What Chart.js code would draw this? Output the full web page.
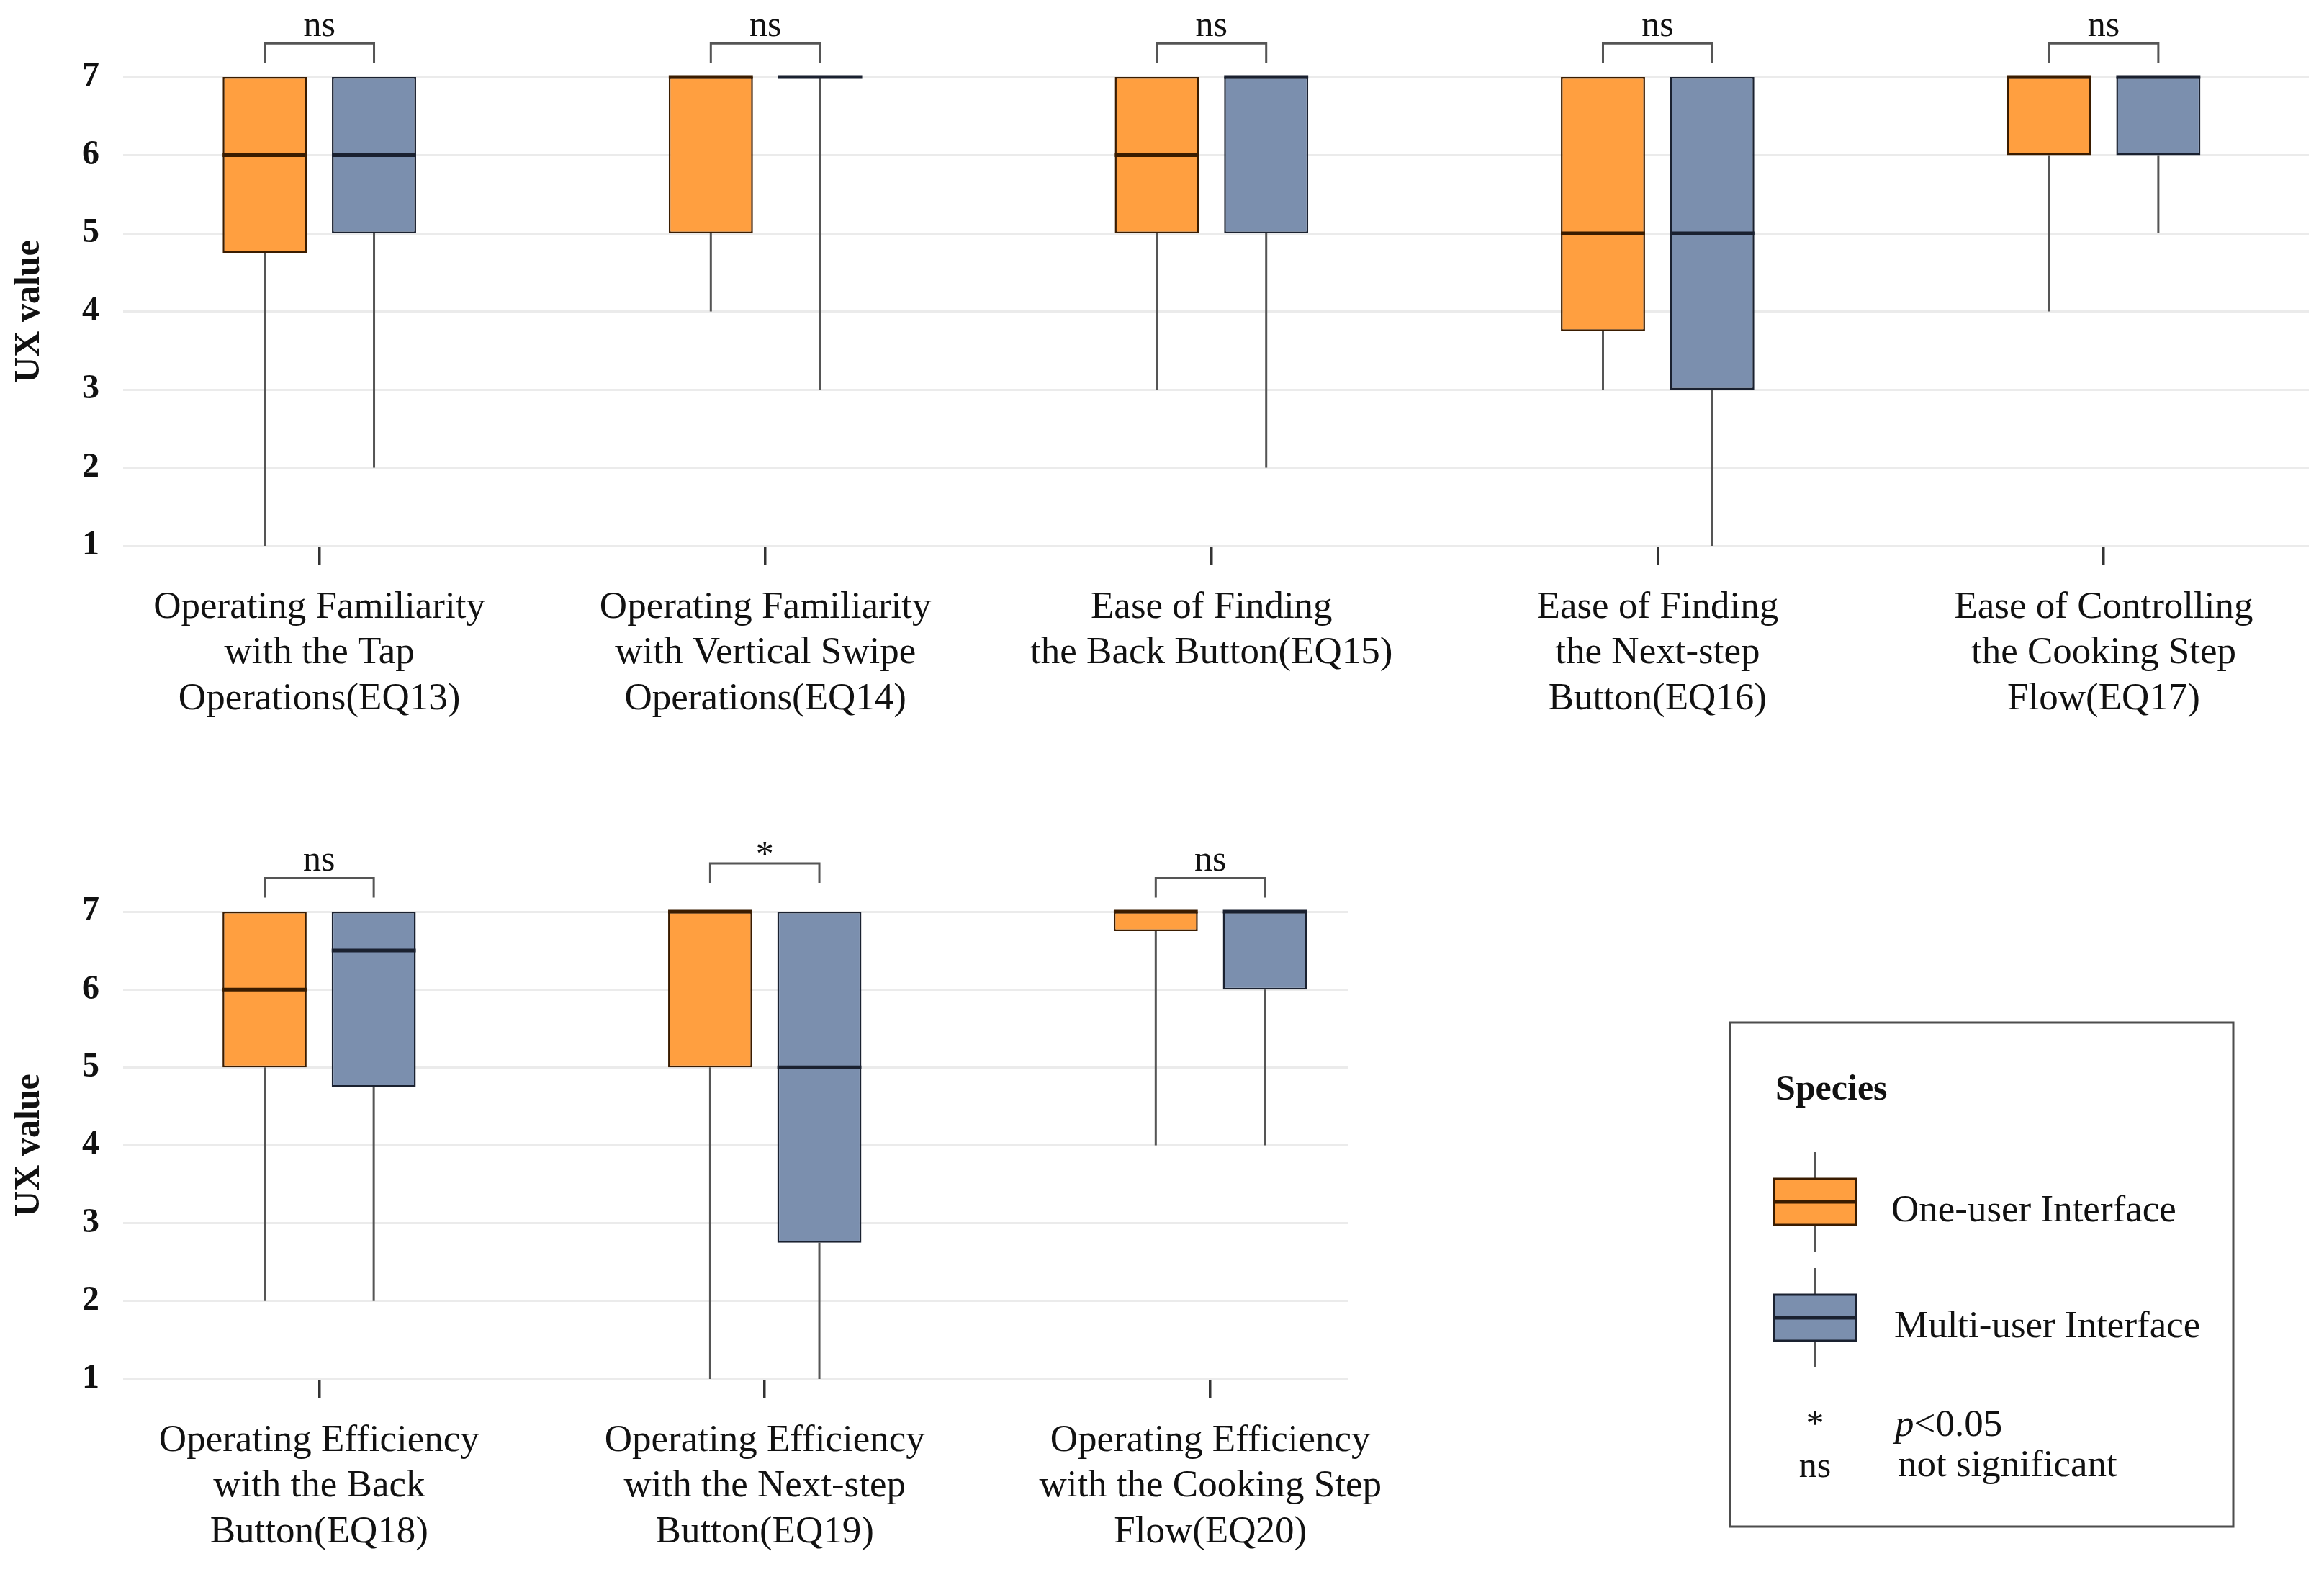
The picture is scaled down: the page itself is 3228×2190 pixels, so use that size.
<!DOCTYPE html>
<html>
<head>
<meta charset="utf-8">
<script src="https://cdn.jsdelivr.net/npm/chart.js@4.4.1/dist/chart.umd.min.js"></script>
<style>
  html, body { margin: 0; padding: 0; background: #fff; }
  body { width: 3228px; height: 2190px; position: relative; overflow: hidden; }
  canvas { position: absolute; left: 0; }
  #topChart { top: 0; }
  #bottomChart { top: 1040px; }
</style>
</head>
<body>
<canvas id="topChart" width="3228" height="1040"></canvas>
<canvas id="bottomChart" width="3228" height="1150"></canvas>
<script>
/* ---- Data ---- */
const Y_TICKS = [1, 2, 3, 4, 5, 6, 7];
const SERIES_NAMES = ["One-user Interface", "Multi-user Interface"];

const TOP_LABELS = [
  ["Operating Familiarity", "with the Tap", "Operations(EQ13)"],
  ["Operating Familiarity", "with Vertical Swipe", "Operations(EQ14)"],
  ["Ease of Finding", "the Back Button(EQ15)"],
  ["Ease of Finding", "the Next-step", "Button(EQ16)"],
  ["Ease of Controlling", "the Cooking Step", "Flow(EQ17)"],
];
const TOP_ONE_MIN = [1, 4, 3, 3, 4];
const TOP_ONE_Q1 = [4.75, 5, 5, 3.75, 6];
const TOP_ONE_MED = [6, 7, 6, 5, 7];
const TOP_ONE_Q3 = [7, 7, 7, 7, 7];
const TOP_ONE_MAX = [7, 7, 7, 7, 7];
const TOP_MULTI_MIN = [2, 3, 2, 1, 5];
const TOP_MULTI_Q1 = [5, 7, 5, 3, 6];
const TOP_MULTI_MED = [6, 7, 7, 5, 7];
const TOP_MULTI_Q3 = [7, 7, 7, 7, 7];
const TOP_MULTI_MAX = [7, 7, 7, 7, 7];
const TOP_SIG = ["ns", "ns", "ns", "ns", "ns"];

const BOTTOM_LABELS = [
  ["Operating Efficiency", "with the Back", "Button(EQ18)"],
  ["Operating Efficiency", "with the Next-step", "Button(EQ19)"],
  ["Operating Efficiency", "with the Cooking Step", "Flow(EQ20)"],
];
const BOTTOM_ONE_MIN = [2, 1, 4];
const BOTTOM_ONE_Q1 = [5, 5, 6.75];
const BOTTOM_ONE_MED = [6, 7, 7];
const BOTTOM_ONE_Q3 = [7, 7, 7];
const BOTTOM_ONE_MAX = [7, 7, 7];
const BOTTOM_MULTI_MIN = [2, 1, 4];
const BOTTOM_MULTI_Q1 = [4.75, 2.75, 6];
const BOTTOM_MULTI_MED = [6.5, 5, 7];
const BOTTOM_MULTI_Q3 = [7, 7, 7];
const BOTTOM_MULTI_MAX = [7, 7, 7];
const BOTTOM_SIG = ["ns", "*", "ns"];

/* ---- Styles ---- */
const SERIF = '"Liberation Serif", "Times New Roman", serif';
const INK = "#111111";
const ORANGE = "#FF9F40";
const ORANGE_EDGE = "#3a1c00";
const BLUE = "#7B8FAE";
const BLUE_EDGE = "#1a2130";
const WHISKER = "#555555";

Chart.defaults.font.family = SERIF;
Chart.defaults.color = INK;

function series(name, color, edge, min, q1, med, q3, max) {
  return { name, color, edge, min, q1, med, q3, max };
}

/** whiskers, medians and significance brackets, all placed through the chart scales */
function boxExtras(list, sig, withLegend) {
  return {
    id: "boxExtras",
    beforeDatasetsDraw(chart) {
      const y = chart.scales.y;
      const ctx = chart.ctx;
      ctx.save();
      ctx.strokeStyle = WHISKER;
      ctx.lineWidth = 3;
      list.forEach((s, d) => {
        chart.getDatasetMeta(d).data.forEach((bar, i) => {
          ctx.beginPath();
          ctx.moveTo(bar.x, y.getPixelForValue(s.min[i]));
          ctx.lineTo(bar.x, y.getPixelForValue(s.q1[i]));
          ctx.moveTo(bar.x, y.getPixelForValue(s.q3[i]));
          ctx.lineTo(bar.x, y.getPixelForValue(s.max[i]));
          ctx.stroke();
        });
      });
      ctx.restore();
    },
    afterDatasetsDraw(chart) {
      const y = chart.scales.y;
      const ctx = chart.ctx;
      ctx.save();
      // medians
      ctx.lineWidth = 5;
      list.forEach((s, d) => {
        chart.getDatasetMeta(d).data.forEach((bar, i) => {
          const py = y.getPixelForValue(s.med[i]);
          ctx.strokeStyle = s.edge;
          ctx.beginPath();
          ctx.moveTo(bar.x - bar.width / 2, py);
          ctx.lineTo(bar.x + bar.width / 2, py);
          ctx.stroke();
        });
      });
      // brackets
      const a = chart.getDatasetMeta(0).data;
      const b = chart.getDatasetMeta(1).data;
      ctx.strokeStyle = "#555555";
      ctx.lineWidth = 3;
      ctx.fillStyle = INK;
      ctx.textAlign = "center";
      ctx.textBaseline = "alphabetic";
      ctx.font = "50px " + SERIF;
      sig.forEach((txt, i) => {
        const lift = txt === "*" ? 0.19 : 0;
        const yTop = y.getPixelForValue(7.43 + lift);
        const yLeg = y.getPixelForValue(7.18 + lift);
        ctx.beginPath();
        ctx.moveTo(a[i].x, yLeg);
        ctx.lineTo(a[i].x, yTop);
        ctx.lineTo(b[i].x, yTop);
        ctx.lineTo(b[i].x, yLeg);
        ctx.stroke();
        const cx = (a[i].x + b[i].x) / 2;
        if (txt === "*") ctx.fillText(txt, cx, y.getPixelForValue(7.82) + 25);
        else ctx.fillText(txt, cx, y.getPixelForValue(7.63) + 11);
      });
      ctx.restore();
    },
    afterDraw(chart) {
      if (withLegend) drawLegend(chart, list);
    },
  };
}

function drawLegend(chart, list) {
  const ctx = chart.ctx;
  ctx.save();
  ctx.strokeStyle = "#4d4d4d";
  ctx.lineWidth = 3;
  ctx.strokeRect(2403, 380, 699, 700);

  ctx.fillStyle = INK;
  ctx.textAlign = "left";
  ctx.textBaseline = "middle";
  ctx.font = "bold 50px " + SERIF;
  ctx.fillText("Species", 2466, 474);

  const cx = 2521;
  const centers = [629, 790];
  list.forEach((s, k) => {
    const cy = centers[k];
    ctx.strokeStyle = WHISKER;
    ctx.lineWidth = 3;
    ctx.beginPath();
    ctx.moveTo(cx, cy - 69);
    ctx.lineTo(cx, cy + 69);
    ctx.stroke();
    ctx.fillStyle = s.color;
    ctx.fillRect(cx - 57, cy - 32, 114, 64);
    ctx.strokeStyle = s.edge;
    ctx.strokeRect(cx - 57, cy - 32, 114, 64);
    ctx.lineWidth = 5;
    ctx.beginPath();
    ctx.moveTo(cx - 57, cy);
    ctx.lineTo(cx + 57, cy);
    ctx.stroke();
    ctx.fillStyle = INK;
    ctx.font = "53px " + SERIF;
    ctx.fillText(s.name, 2627 + (k ? 4 : 0), cy + 13);
  });

  ctx.font = "50px " + SERIF;
  ctx.textAlign = "center";
  ctx.fillText("*", cx, 940);
  ctx.fillText("ns", cx, 998);
  ctx.textAlign = "left";
  ctx.font = "italic 53px " + SERIF;
  ctx.fillText("p", 2632, 940);
  const pw = ctx.measureText("p").width;
  ctx.font = "53px " + SERIF;
  ctx.fillText("<0.05", 2632 + pw, 940);
  ctx.fillText("not significant", 2636, 996);
  ctx.restore();
}

function makeBoxChart(canvas, labels, list, sig, layout) {
  const datasets = list.map((s) => ({
    label: s.name,
    data: labels.map((_, i) => ({ x: i, y: [s.q1[i], s.q3[i]] })),
    backgroundColor: s.color,
    borderColor: s.edge,
    borderWidth: 2.5,
    borderSkipped: false,
    categoryPercentage: 0.49,
    barPercentage: 0.77,
    clip: false,
  }));
  return new Chart(canvas, {
    type: "bar",
    data: { datasets },
    plugins: [boxExtras(list, sig, layout.legend)],
    options: {
      responsive: false,
      devicePixelRatio: 1,
      animation: false,
      layout: { padding: { top: layout.top, right: layout.right, left: 0, bottom: 0 } },
      plugins: { legend: { display: false }, tooltip: { enabled: false } },
      scales: {
        x: {
          type: "linear",
          min: -0.44,
          max: layout.xMax,
          offset: false,
          afterBuildTicks: (s) => { s.ticks = labels.map((_, i) => ({ value: i })); },
          afterFit: (s) => { s.height = layout.axisHeight; },
          ticks: {
            autoSkip: false,
            maxRotation: 0,
            padding: 28,
            color: INK,
            font: { size: 53 },
            callback: (v, i) => labels[i],
          },
          grid: {
            display: true,
            offset: false,
            drawOnChartArea: false,
            drawTicks: true,
            tickLength: 26,
            color: "#333333",
            lineWidth: 3.5,
          },
          border: { display: false },
        },
        y: {
          min: 1,
          max: 7,
          afterBuildTicks: (s) => { s.ticks = Y_TICKS.map((v) => ({ value: v })); },
          afterFit: (s) => { s.width = 171; },
          ticks: { padding: 33, color: INK, font: { size: 48, weight: "bold" } },
          grid: { color: "#ebebeb", lineWidth: 3, drawTicks: false },
          border: { display: false },
          title: {
            display: true,
            text: "UX value",
            color: INK,
            font: { size: 50, weight: "bold" },
            padding: { top: 11, bottom: 0 },
          },
        },
      },
    },
  });
}

makeBoxChart(
  document.getElementById("topChart"),
  TOP_LABELS,
  [
    series(SERIES_NAMES[0], ORANGE, ORANGE_EDGE, TOP_ONE_MIN, TOP_ONE_Q1, TOP_ONE_MED, TOP_ONE_Q3, TOP_ONE_MAX),
    series(SERIES_NAMES[1], BLUE, BLUE_EDGE, TOP_MULTI_MIN, TOP_MULTI_Q1, TOP_MULTI_MED, TOP_MULTI_Q3, TOP_MULTI_MAX),
  ],
  TOP_SIG,
  { top: 107, right: 21, xMax: 4.46, axisHeight: 282, legend: false }
);

makeBoxChart(
  document.getElementById("bottomChart"),
  BOTTOM_LABELS,
  [
    series(SERIES_NAMES[0], ORANGE, ORANGE_EDGE, BOTTOM_ONE_MIN, BOTTOM_ONE_Q1, BOTTOM_ONE_MED, BOTTOM_ONE_Q3, BOTTOM_ONE_MAX),
    series(SERIES_NAMES[1], BLUE, BLUE_EDGE, BOTTOM_MULTI_MIN, BOTTOM_MULTI_Q1, BOTTOM_MULTI_MED, BOTTOM_MULTI_Q3, BOTTOM_MULTI_MAX),
  ],
  BOTTOM_SIG,
  { top: 226, right: 1355, xMax: 2.31, axisHeight: 275, legend: true }
);
</script>
</body>
</html>
